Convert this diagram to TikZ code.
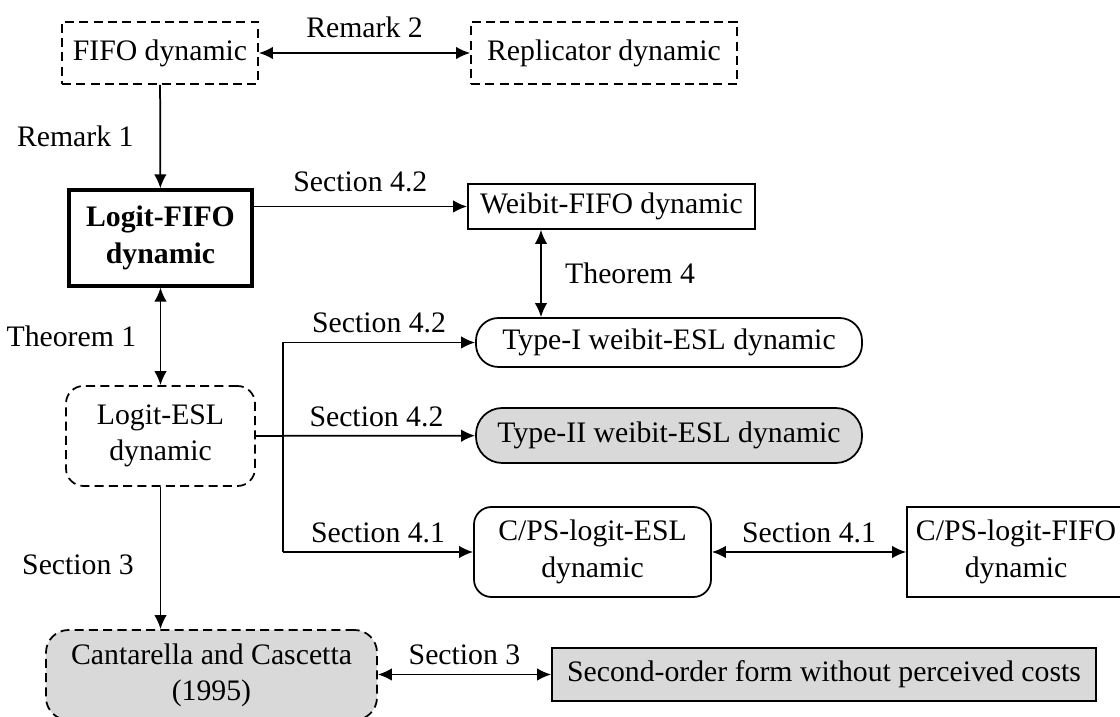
\documentclass[tikz,border=0pt]{standalone}
\usepackage{fontspec}
\setmainfont{Liberation Serif}
\usepackage{xcolor}
\usetikzlibrary{positioning,arrows.meta}

\definecolor{boxgrey}{HTML}{D9D9D9}
\newcommand{\figfont}{\fontsize{11.9}{14.5}\selectfont}

\begin{document}
\begin{tikzpicture}[x=0.4pt,y=-0.4pt,
                      >={Latex[length=5.6pt,width=5pt]},
                      line width=0.7pt,
                      font=\figfont,
                      basenode/.style={draw,align=center,inner sep=2pt},
                      plainbox/.style={basenode,rectangle},
                      dashbox/.style={basenode,rectangle,dash pattern=on 3.6pt off 2.1pt},
                      pill/.style={basenode,rectangle,rounded corners=9pt},
                      roundbox/.style={basenode,rectangle,rounded corners=7pt}]
    \useasboundingbox (0,0) rectangle (1120,717);
    \clip (0,0) rectangle (1120,717);
    \node[dashbox,minimum width=78.4pt,minimum height=24.8pt] (fifo) at (160,53) {FIFO dynamic};
    \node[dashbox,minimum width=106.4pt,minimum height=24.8pt] (replicator) at (604,53) {Replicator dynamic};
    \node[plainbox,line width=1.3pt,font=\figfont\bfseries,minimum width=73.2pt,minimum height=38.4pt] (logitfifo) at (160.5,238) {Logit-FIFO\\dynamic};
    \node[plainbox,minimum width=114.8pt,minimum height=18pt] (weibitfifo) at (611.5,206.5) {Weibit-FIFO dynamic};
    \node[pill,minimum width=154.4pt,minimum height=19.6pt] (typeI) at (669,342.5) {Type-I weibit-ESL dynamic};
    \node[pill,fill=boxgrey,rounded corners=10.5pt,minimum width=154.4pt,minimum height=22pt] (typeII) at (669,435.5) {Type-II weibit-ESL dynamic};
    \node[roundbox,minimum width=94.8pt,minimum height=36pt] (cpsesl) at (592.5,552) {C/PS-logit-ESL\\dynamic};
    \node[plainbox,minimum width=87.2pt,minimum height=36pt] (cpsfifo) at (1016,552) {C/PS-logit-FIFO\\dynamic};
    \node[dashbox,rounded corners=7pt,minimum width=75.6pt,minimum height=40pt] (logitesl) at (160.5,436) {Logit-ESL\\dynamic};
    \node[dashbox,rounded corners=9pt,fill=boxgrey,minimum width=132.4pt,minimum height=36pt] (cantarella) at (211.5,675) {Cantarella and Cascetta\\(1995)};
    \node[plainbox,fill=boxgrey,minimum width=217.6pt,minimum height=21.2pt] (secondorder) at (824,674.5) {Second-order form without perceived costs};
    \coordinate (brx) at (283,0);
    \coordinate (t4x) at (541,0);
    \coordinate (br1) at (typeI.west -| brx);
    \coordinate (br3) at (cpsesl.west -| brx);
    \draw[<->] (fifo) -- node[above,yshift=2.5pt] {Remark 2} (replicator);
    \draw[->] (fifo) -- node[left=7pt] {Remark 1} (logitfifo);
    \draw[->] (logitfifo.east |- weibitfifo) -- node[above,yshift=2pt] {Section 4.2} (weibitfifo);
    \draw[<->] (logitfifo) -- node[left=6pt] {Theorem 1} (logitesl);
    \draw[<->] (weibitfifo.south -| t4x) -- node[right=6pt] {Theorem 4} (typeI.north -| t4x);
    \draw[->] (logitesl) -- node[above,pos=.55] {Section 4.2} (typeII);
    \draw (br1) -- (br3);
    \draw[->] (br1) -- node[above] {Section 4.2} (typeI);
    \draw[->] (br3) -- node[above] {Section 4.1} (cpsesl);
    \draw[<->] (cpsesl) -- node[above] {Section 4.1} (cpsfifo);
    \draw[->] (logitesl.south) -- node[left=7pt,pos=.55] {Section 3} (logitesl.south |- cantarella.north);
    \draw[<->] (cantarella.east |- secondorder) -- node[above] {Section 3} (secondorder);
\end{tikzpicture}
\end{document}
